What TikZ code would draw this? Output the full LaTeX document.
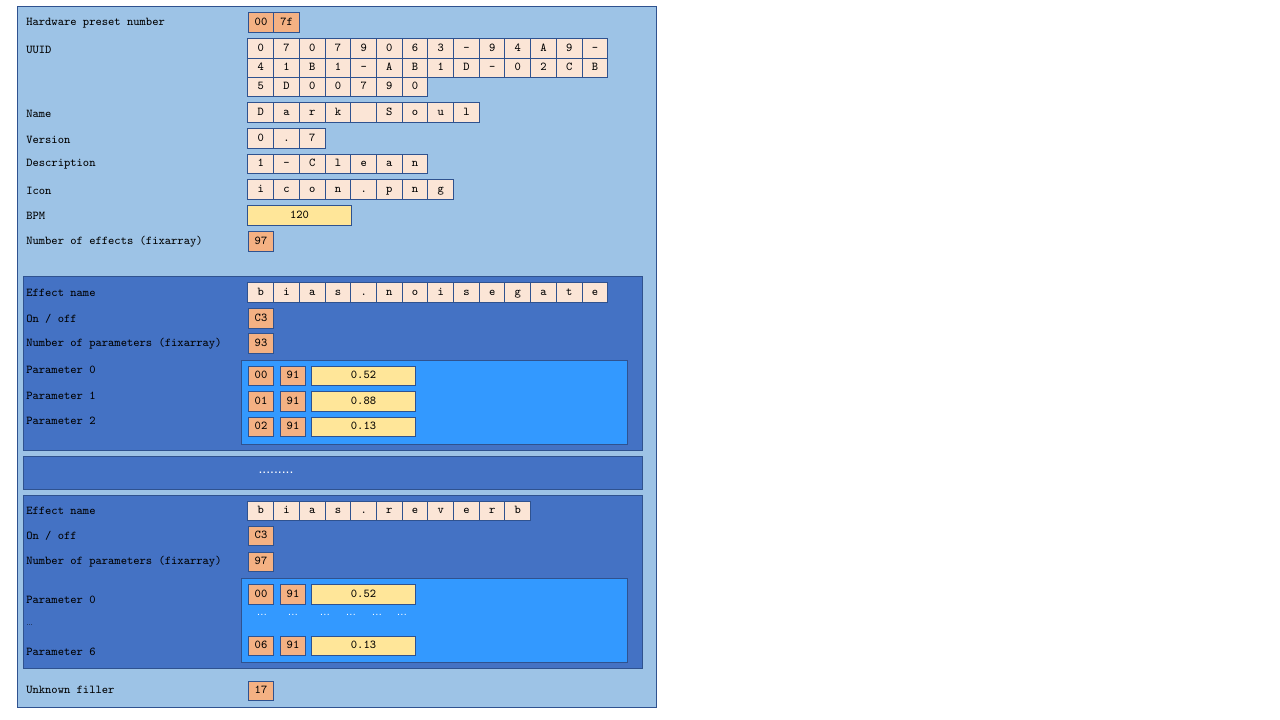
\documentclass[tikz,border=0pt]{standalone}
\usepackage{fontspec}
\newfontfamily\sansfont{Liberation Sans}
\definecolor{panel}{HTML}{9DC3E6}
\definecolor{effect}{HTML}{4472C4}
\definecolor{params}{HTML}{3399FF}
\definecolor{edge}{HTML}{2F528F}
\definecolor{peach}{HTML}{FBE5D6}
\definecolor{byteorange}{HTML}{F4B183}
\definecolor{gold}{HTML}{FFE699}
\begin{document}
\begin{tikzpicture}[x=0.75pt,y=-0.75pt]
	\tikzstyle{box}=[draw=edge,line width=0.75pt]
	\tikzstyle{cell}=[draw=edge,fill=peach,line width=0.75pt,minimum width=19.3pt,minimum height=14.6pt,inner sep=0pt,text height=0.62em,text depth=0.18em,font=\ttfamily\fontsize{9}{10}\selectfont]
	\tikzstyle{byte}=[cell,fill=byteorange]
	\tikzstyle{float}=[cell,fill=gold,minimum width=77.3pt]
	\tikzstyle{field}=[anchor=west,inner sep=0pt,font=\ttfamily\fontsize{9}{10}\selectfont]
	\tikzstyle{gap}=[inner sep=0pt,text=white,font=\sansfont\fontsize{8}{9}\selectfont]
	\useasboundingbox (0,0) rectangle (1280,720);

	% containers
	\draw[box,fill=panel] (17,7) rectangle (656,707);
	\draw[box,fill=effect] (23,276) rectangle (642,450);
	\draw[box,fill=params] (241,360) rectangle (627,444);
	\draw[box,fill=effect] (23,456) rectangle (642,489);
	\draw[box,fill=effect] (23,495) rectangle (642,668);
	\draw[box,fill=params] (241,578) rectangle (627,662);

	% header
	\node[field] (lhw) at (26,23.5) {Hardware preset number};
	\node[byte] (hw1) at (261,22.5) {00};
	\node[byte] (hw2) at (286.7,22.5) {7f};

	\node[field] (luuid) at (26,49.5) {UUID};
	\foreach \c [count=\i] in {0,7,0,7,9,0,6,3,-,9,4,A,9,-}
		\node[cell] (uuida\i) at ({235.15+25.7*\i},48.5) {\c};
	\foreach \c [count=\i] in {4,1,B,1,-,A,B,1,D,-,0,2,C,B}
		\node[cell] (uuidb\i) at ({235.15+25.7*\i},67.8) {\c};
	\foreach \c [count=\i] in {5,D,0,0,7,9,0}
		\node[cell] (uuidc\i) at ({235.15+25.7*\i},87) {\c};

	\node[field] (lname) at (26,113.5) {Name};
	\foreach \c [count=\i] in {D,a,r,k,{},S,o,u,l}
		\node[cell] (name\i) at ({235.15+25.7*\i},112.5) {\c};

	\node[field] (lversion) at (26,139.5) {Version};
	\foreach \c [count=\i] in {0,.,7}
		\node[cell] (version\i) at ({235.15+25.7*\i},138.5) {\c};

	\node[field] (ldesc) at (26,164.5) {Description};
	\foreach \c [count=\i] in {1,-,C,l,e,a,n}
		\node[cell] (desc\i) at ({235.15+25.7*\i},164) {\c};

	\node[field] (licon) at (26,190.5) {Icon};
	\foreach \c [count=\i] in {i,c,o,n,.,p,n,g}
		\node[cell] (icon\i) at ({235.15+25.7*\i},189.5) {\c};

	\node[field] (lbpm) at (26,215.5) {BPM};
	\node[float] (bpm) at (299.5,215.5) {120};

	\node[field] (lneff) at (26,241.5) {Number of effects (fixarray)};
	\node[byte] (neff) at (261,241.5) {97};

	% first effect
	\node[field] (laname) at (26,292.5) {Effect name};
	\foreach \c [count=\i] in {b,i,a,s,.,n,o,i,s,e,g,a,t,e}
		\node[cell] (aname\i) at ({235.15+25.7*\i},292.5) {\c};
	\node[field] (laon) at (26,318.5) {On / off};
	\node[byte] (aon) at (261,318.5) {C3};
	\node[field] (lanpar) at (26,343.5) {Number of parameters (fixarray)};
	\node[byte] (anpar) at (261,343.5) {93};

	\node[field] (lapar0) at (26,369.5) {Parameter 0};
	\node[field] (lapar1) at (26,395.5) {Parameter 1};
	\node[field] (lapar2) at (26,420.5) {Parameter 2};
	\node[byte] (apar0id) at (261,376) {00};
	\node[byte] (apar0t) at (293,376) {91};
	\node[float] (apar0v) at (363.5,376) {0.52};
	\node[byte] (apar1id) at (261,401.5) {01};
	\node[byte] (apar1t) at (293,401.5) {91};
	\node[float] (apar1v) at (363.5,401.5) {0.88};
	\node[byte] (apar2id) at (261,427) {02};
	\node[byte] (apar2t) at (293,427) {91};
	\node[float] (apar2v) at (363.5,427) {0.13};

	% skipped effects
	\node[gap,font=\sansfont\fontsize{10.5}{12}\selectfont] (skip) at (276,473) {.........};

	% last effect
	\node[field] (lbname) at (26,510.5) {Effect name};
	\foreach \c [count=\i] in {b,i,a,s,.,r,e,v,e,r,b}
		\node[cell] (bname\i) at ({235.15+25.7*\i},511) {\c};
	\node[field] (lbon) at (26,535.5) {On / off};
	\node[byte] (bon) at (261,536) {C3};
	\node[field] (lbnpar) at (26,561.5) {Number of parameters (fixarray)};
	\node[byte] (bnpar) at (261,562) {97};

	\node[field] (lbpar0) at (26,599.5) {Parameter 0};
	\node[field,font=\sansfont\fontsize{5}{6}\selectfont] (lbdots) at (26,625) {…};
	\node[field] (lbpar6) at (26,651.5) {Parameter 6};
	\node[byte] (bpar0id) at (261,594.5) {00};
	\node[byte] (bpar0t) at (293,594.5) {91};
	\node[float] (bpar0v) at (363.5,594.5) {0.52};
	\foreach \x [count=\i] in {262,293,325,351,377,402}
		\node[gap] (bdots\i) at (\x,615) {…};
	\node[byte] (bpar6id) at (261,646) {06};
	\node[byte] (bpar6t) at (293,646) {91};
	\node[float] (bpar6v) at (363.5,646) {0.13};

	% trailer
	\node[field] (lfill) at (26,689.5) {Unknown filler};
	\node[byte] (fill) at (261,691) {17};
\end{tikzpicture}
\end{document}
